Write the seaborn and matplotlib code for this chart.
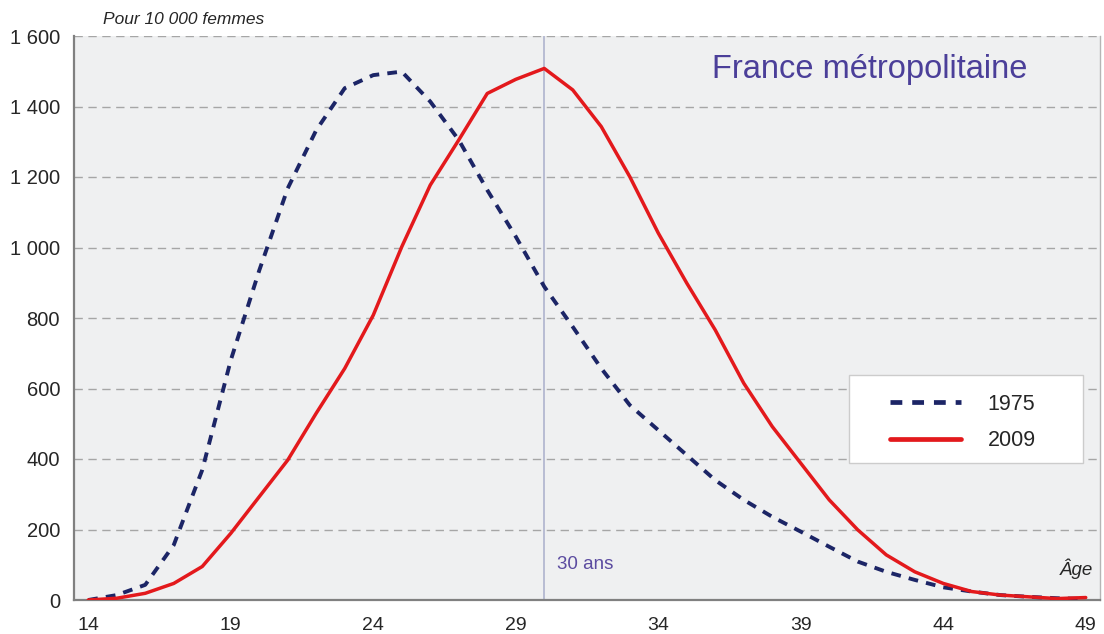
import numpy as np
import pandas as pd
import matplotlib
matplotlib.use("Agg")
import matplotlib.pyplot as plt
from matplotlib.patches import Rectangle
import seaborn as sns

# Taux de fécondité par âge, pour 10 000 femmes
ages = list(range(14, 50))
fec_1975 = [0, 14, 43, 156, 369, 680, 935, 1168, 1333, 1452, 1489, 1499,
            1414, 1305, 1163, 1031, 889, 775, 657, 553, 482, 411, 340, 284,
            236, 194, 151, 109, 80, 57, 36, 24, 14, 9, 5, 3]
fec_2009 = [0, 5, 19, 47, 95, 189, 293, 397, 530, 657, 808, 1002,
            1177, 1305, 1437, 1477, 1508, 1447, 1343, 1201, 1041, 899, 766, 615,
            492, 388, 284, 199, 128, 80, 47, 24, 14, 9, 4, 7]
years = ["1975", "2009"]
x_labels = [14, 19, 24, 29, 34, 39, 44, 49]
y_ticks = [0, 200, 400, 600, 800, 1000, 1200, 1400, 1600]

sns.set_style("white", {"axes.facecolor": "#eff0f1"})
plt.rcParams["font.family"] = ["Liberation Sans", "DejaVu Sans"]

fig = plt.figure(figsize=(11.04, 6.34), dpi=100)
ax = fig.add_axes([74 / 1104, 34 / 634, 1026 / 1104, 564 / 634])

# grille horizontale en tirets
for v in y_ticks[1:]:
    ax.axhline(v, color="#a6a6a6", lw=1, ls=(0, (6, 4)), zorder=1)

# repère à 30 ans
ax.axvline(30, color="#a9aecb", lw=1.1, zorder=1)

sns.lineplot(x=ages, y=fec_1975, ax=ax, color="#1c2566", lw=2.8,
             label=years[0], zorder=3)
ax.lines[-1].set_dashes([2.5, 2.1])
sns.lineplot(x=ages, y=fec_2009, ax=ax, color="#e3191c", lw=2.5,
             label=years[1], zorder=4)

ax.set_xlim(13.5, 49.5)
ax.set_ylim(0, 1600)
ax.set_xticks(x_labels)
ax.set_xticklabels([str(a) for a in x_labels], fontsize=14)
ax.set_xticks(np.arange(13.5, 50, 2), minor=True)
ax.tick_params(axis="x", which="major", length=0, pad=12)
ax.tick_params(axis="x", which="minor", length=6, color="#9a9a9a", width=1)
ax.set_yticks(y_ticks)
ax.set_yticklabels([f"{v:,}".replace(",", " ") for v in y_ticks], fontsize=14.5)
ax.tick_params(axis="y", length=7, color="#9a9a9a", width=1, pad=3)
ax.set_xlabel("")
ax.set_ylabel("")

for side in ["left", "bottom"]:
    ax.spines[side].set_color("#808080")
    ax.spines[side].set_linewidth(1.6)
ax.spines["right"].set_color("#b5b5b5")
ax.spines["right"].set_linewidth(1)
ax.spines["top"].set_visible(False)

# cadre de la légende
ax.add_patch(Rectangle((0.7554, 0.2429), 0.228, 0.156, transform=ax.transAxes,
                       facecolor="white", edgecolor="#cccccc", lw=1, zorder=5))
leg = ax.legend(loc="center left", bbox_to_anchor=(0.7846, 0.3147),
                fontsize=15.5, frameon=False, handlelength=3.3,
                handletextpad=1.25, borderpad=0, labelspacing=0.7)
leg.set_zorder(6)
for h in leg.get_lines():
    h.set_linewidth(3.4)

ax.text(30.45, 100, "30 ans", color="#5b4ba0", fontsize=13.5, va="center")
ax.text(49.25, 90, "Âge", fontsize=13.5, style="italic", ha="right", va="center")
ax.text(0.929, 0.94, "France métropolitaine", transform=ax.transAxes,
        color="#4b3f99", fontsize=23.5, ha="right", va="center")
fig.text(103 / 1104, 1 - 20 / 634, "Pour 10 000 femmes", fontsize=12.5,
         style="italic", va="center")

fig.savefig("out.png", dpi=100, facecolor="white")
